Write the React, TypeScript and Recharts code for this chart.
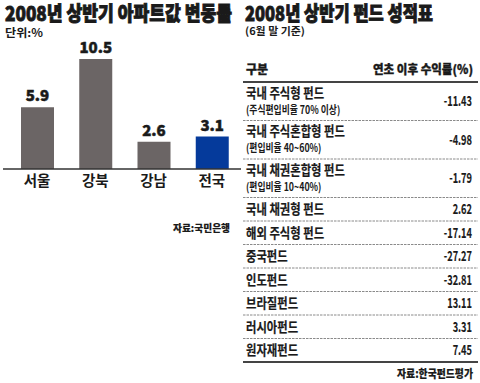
import React from 'react';
import { BarChart, Bar, XAxis, YAxis, Cell, LabelList } from 'recharts';

// ---- data ----
const regions = ['서울', '강북', '강남', '전국'];
const priceChange = [5.9, 10.5, 2.6, 3.1];
const highlighted = ['전국'];

const fundNames = [
  '국내 주식형 펀드',
  '국내 주식혼합형 펀드',
  '국내 채권혼합형 펀드',
  '국내 채권형 펀드',
  '해외 주식형 펀드',
  '중국펀드',
  '인도펀드',
  '브라질펀드',
  '러시아펀드',
  '원자재펀드',
];
const fundNotes = [
  '(주식편입비율 70% 이상)',
  '(편입비율 40~60%)',
  '(편입비율 10~40%)',
  '',
  '',
  '',
  '',
  '',
  '',
  '',
];
const fundReturns = [-11.43, -4.98, -1.79, 2.62, -17.14, -27.27, -32.81, 13.11, 3.31, 7.45];

const leftTitle = '2008년 상반기 아파트값 변동률';
const leftUnit = '단위:%';
const leftSource = '자료:국민은행';
const rightTitle = '2008년 상반기 펀드 성적표';
const rightSub = '(6월 말 기준)';
const colHeaders = ['구분', '연초 이후 수익률(%)'];
const rightSource = '자료:한국펀드평가';

// ---- styles ----
const FONT = '"Noto Sans CJK KR", "Noto Sans", sans-serif';
const INK = '#1a1a1a';
const GRAY_BAR = '#6b6565';
const BLUE_BAR = '#053a9b';

const chartData = regions.map((r, i) => ({ name: r, value: priceChange[i] }));

type TProps = {
  x: number;
  y: number;
  size: number;
  weight?: number;
  sx?: number;
  anchor?: 'start' | 'end' | 'middle';
  len?: number;
  sw?: number;
  children: React.ReactNode;
};

const T = ({ x, y, size, weight = 400, sx = 1, anchor = 'start', len, sw = 0, children }: TProps) => (
  <text
    transform={`translate(${x},${y}) scale(${sx},1)`}
    fontSize={size}
    fontWeight={weight}
    textAnchor={anchor}
    fill={INK}
    stroke={sw ? INK : 'none'}
    strokeWidth={sw}
    fontFamily={FONT}
    {...(len ? { textLength: len, lengthAdjust: 'spacingAndGlyphs' } : {})}
  >
    {children}
  </text>
);

const fmt = (v: number) => (v < 0 ? '-' + Math.abs(v).toFixed(2) : v.toFixed(2));

export default function App() {
  // table row layout
  const TALL = 38.5;
  const SHORT = 23.5;
  const X0 = 243;
  const X1 = 478;
  let top = 82;
  const rows = fundNames.map((name, i) => {
    const tall = fundNotes[i] !== '';
    const h = tall ? TALL : SHORT;
    const r = { name, note: fundNotes[i], value: fundReturns[i], top, h, tall };
    top += h;
    return r;
  });
  const tableBottom = top;

  return (
    <div
      style={{
        position: 'absolute',
        left: 0,
        top: 0,
        width: 480,
        height: 383,
        background: '#fff',
        overflow: 'hidden',
      }}
    >
      <div style={{ position: 'absolute', left: 0, top: 0 }}>
        <BarChart
          width={245}
          height={240}
          data={chartData}
          margin={{ top: 59, right: 4, bottom: 41, left: 3 }}
        >
          <YAxis hide width={0} domain={[0, 10.5]} />
          <XAxis
            dataKey="name"
            padding={{ left: 5, right: 0 }}
            tickLine={false}
            axisLine={{ stroke: '#333', strokeWidth: 1.3 }}
            tickMargin={1}
            tick={{ fontSize: 14.5, fill: INK, fontFamily: FONT, fontWeight: 700 }}
          />
          <Bar dataKey="value" barSize={33} isAnimationActive={false}>
            {chartData.map((d) => (
              <Cell key={d.name} fill={highlighted.includes(d.name) ? BLUE_BAR : GRAY_BAR} />
            ))}
            <LabelList
              dataKey="value"
              position="top"
              offset={6}
              style={{ fontSize: 15, fontWeight: 900, fill: INK, fontFamily: FONT, stroke: INK, strokeWidth: 0.5 }}
            />
          </Bar>
        </BarChart>
      </div>

      <svg
        width={480}
        height={383}
        style={{ position: 'absolute', left: 0, top: 0, pointerEvents: 'none' }}
      >
        {/* left panel texts */}
        <T x={5} y={21} size={20} weight={900} len={227} sw={0.9}>{leftTitle}</T>
        <T x={5} y={37} size={11} weight={700} len={38}>{leftUnit}</T>
        <T x={230} y={232} size={10} weight={900} anchor="end" len={57} sw={0.15}>{leftSource}</T>

        {/* right panel */}
        <T x={245} y={21} size={20} weight={900} len={188} sw={0.9}>{rightTitle}</T>
        <T x={245} y={35} size={10.5} weight={700} len={60}>{rightSub}</T>
        <T x={246} y={74} size={12.5} weight={900} len={22} sw={0.35}>{colHeaders[0]}</T>
        <T x={473} y={74} size={12.5} weight={900} anchor="end" len={100} sw={0.35}>{colHeaders[1]}</T>
        <line x1={X0} x2={X1} y1={82} y2={82} stroke="#444" strokeWidth={1.8} />

        {rows.map((r, i) => (
          <g key={r.name}>
            {r.tall ? (
              <>
                <T x={246} y={r.top + 15.5} size={13.5} weight={700} sx={0.84} sw={0.2}>{r.name}</T>
                <T x={246} y={r.top + 31.5} size={11} weight={700} sx={0.8}>{r.note}</T>
                <T x={472} y={r.top + 24} size={14} weight={700} sx={0.66} anchor="end" sw={0.15}>{fmt(r.value)}</T>
              </>
            ) : (
              <>
                <T x={246} y={r.top + 16.5} size={13.5} weight={700} sx={0.84} sw={0.2}>{r.name}</T>
                <T x={472} y={r.top + 16.5} size={14} weight={700} sx={0.66} anchor="end" sw={0.15}>{fmt(r.value)}</T>
              </>
            )}
            {i < rows.length - 1 && (
              <line
                x1={X0}
                x2={X1}
                y1={r.top + r.h}
                y2={r.top + r.h}
                stroke="#8a8a8a"
                strokeWidth={1}
                strokeDasharray="2.5 1"
              />
            )}
          </g>
        ))}
        <line x1={X0} x2={X1} y1={tableBottom} y2={tableBottom} stroke="#444" strokeWidth={1.8} />
        <T x={473} y={378} size={11} weight={900} anchor="end" len={76} sw={0.15}>{rightSource}</T>
      </svg>
    </div>
  );
}
